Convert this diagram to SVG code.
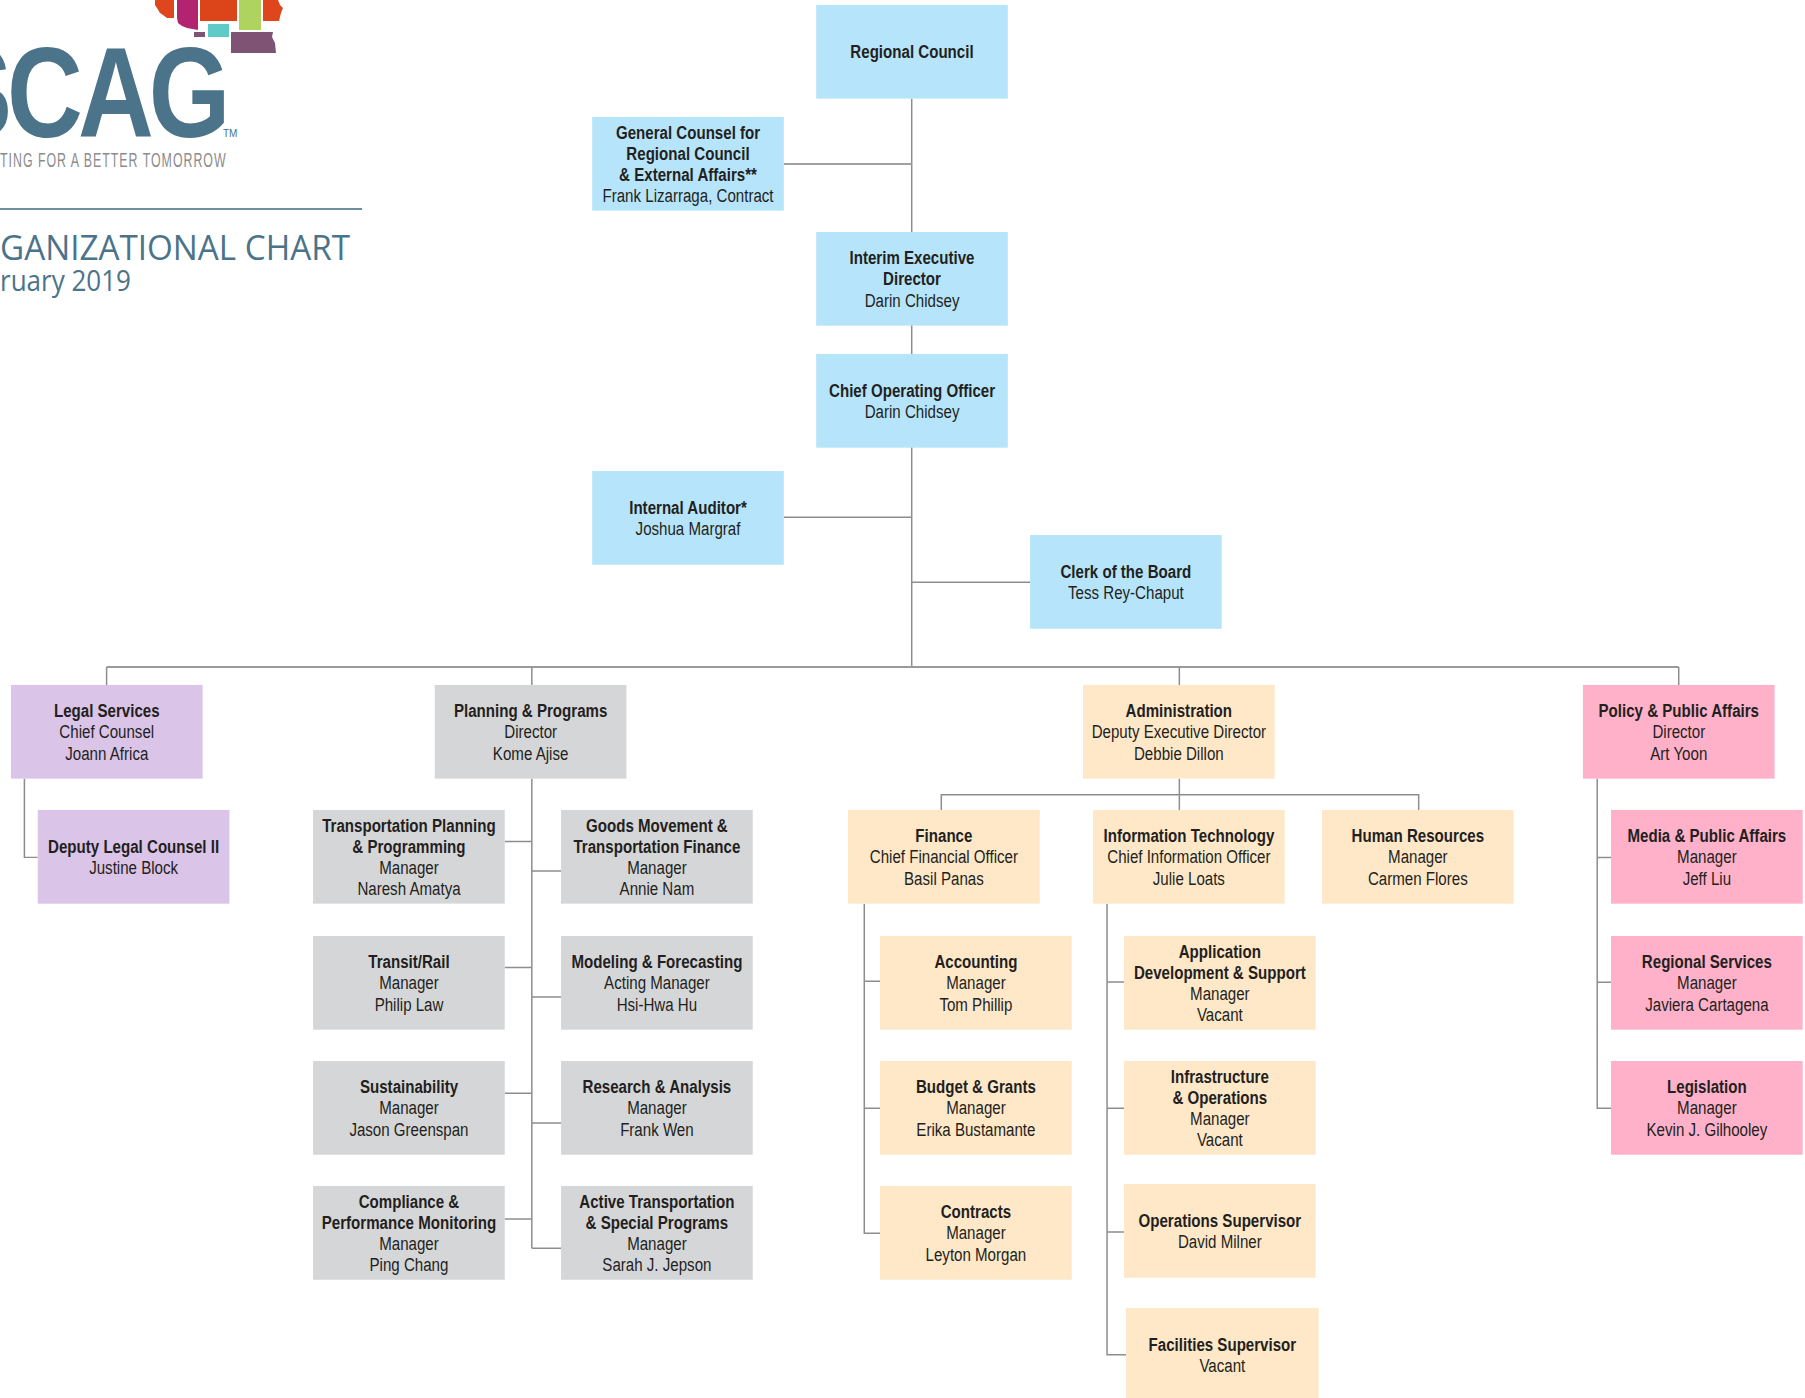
<svg xmlns="http://www.w3.org/2000/svg" width="1805" height="1398" viewBox="0 0 1805 1398">
<style>
.t{font-family:"Liberation Sans",Arial,sans-serif;font-size:16px;fill:#231f20;text-anchor:middle;transform:scaleX(0.82);transform-box:fill-box;transform-origin:50% 50%}
.bd{font-weight:bold}
.blue{fill:#b6e5fb}.purple{fill:#dac4e8}.gray{fill:#d5d6d8}.peach{fill:#fee8c8}.pink{fill:#feb1c9}
.ln{fill:none;stroke:#8d8d8d;stroke-width:1.3}
</style>
<rect width="1805" height="1398" fill="#ffffff"/>
<g id="logo">
<polygon points="155,0 174,0 174,18 167,18 163,15 160,13 157,8 155,5" fill="#df461d"/>
<polygon points="177,0 198,0 198,30 187,28 182,26 178,23 177,18" fill="#b2246f"/>
<rect x="194" y="32" width="11" height="5" fill="#7e5373"/>
<rect x="200" y="0" width="37" height="21" fill="#dc4519"/>
<rect x="208" y="24" width="21" height="13" fill="#5ecbc9"/>
<rect x="239" y="0" width="22" height="30" fill="#aed35f"/>
<polygon points="263,0 278,0 280,5 283,8 281,13 279,21 263,21" fill="#df461d"/>
<polygon points="231,32 273,32 272,37 275,43 276,53 231,53" fill="#7e5373"/>
<text transform="translate(-58,137) scale(0.82,1)" x="0" y="0" font-family="Liberation Sans, Arial, sans-serif" font-weight="bold" font-size="128" letter-spacing="-6" fill="#4b7389">SCAG</text>
<text x="223" y="137" font-family="Liberation Sans, Arial, sans-serif" font-size="10" fill="#4b7389">TM</text>
<text transform="translate(0,167) scale(0.62,1)" x="0" y="0" font-family="Liberation Sans, Arial, sans-serif" font-size="20" fill="#8c8c8c" textLength="364" lengthAdjust="spacing">TING FOR A BETTER TOMORROW</text>
<line x1="0" y1="209" x2="362" y2="209" stroke="#6b8ea0" stroke-width="2"/>
<text x="0" y="260" font-family="Open Sans, Liberation Sans, sans-serif" font-size="35" fill="#4b7389" textLength="350" lengthAdjust="spacingAndGlyphs">GANIZATIONAL CHART</text>
<text x="0" y="291" font-family="Open Sans, Liberation Sans, sans-serif" font-size="29" fill="#4b7389" textLength="131" lengthAdjust="spacingAndGlyphs">ruary 2019</text>
</g>
<g transform="scale(1.15115)">
<g id="connectors" class="ln">
<path d="M792 85.7V579.4"/>
<path d="M680.9 142.5H792" stroke="#a0a0a0" stroke-width="1.6"/>
<path d="M680.9 449.4H792"/>
<path d="M792 505.9H894.8"/>
<path d="M92.6 579.4H1458.3" stroke-width="1.6" stroke="#9a9a9a"/>
<path d="M92.6 579.4V595M462 579.4V595M1024.5 579.4V595M1458.3 579.4V595"/>
<path d="M21.2 676.4V744.8H32.8"/>
<path d="M462 676.4V1084.4"/>
<path d="M438.5 731H462M438.5 840.4H462M438.5 949.7H462M438.5 1059H462"/>
<path d="M462 756.6H487.4M462 866H487.4M462 975.6H487.4M462 1084.4H487.4"/>
<path d="M1024.5 676.4V703.6"/>
<path d="M817.7 703.6V690.3H1232.4V703.6"/>
<path d="M750.8 785V1071.4H764.5M750.8 852.5H764.5M750.8 962.8H764.5"/>
<path d="M961.7 785V1176.8H978.2M961.7 853H976.4M961.7 962.8H976.4M961.7 1070.2H976.4"/>
<path d="M1387.5 676.4V962.8H1399.5M1387.5 745H1399.5M1387.5 853.3H1399.5"/>
</g>

<g id="regional-council"><rect class="blue" x="709" y="4.3" width="166.5" height="81.4"/>
<text class="t bd" x="792.25" y="50.7">Regional Council</text></g>

<g id="general-counsel"><rect class="blue" x="514.4" y="101.6" width="166.5" height="81.4"/>
<text class="t bd" x="597.65" y="120.4">General Counsel for</text>
<text class="t bd" x="597.65" y="138.8">Regional Council</text>
<text class="t bd" x="597.65" y="157.2">&amp; External Affairs**</text>
<text class="t" x="597.65" y="175.6">Frank Lizarraga, Contract</text></g>

<g id="interim-ed"><rect class="blue" x="709" y="201.5" width="166.5" height="81.4"/>
<text class="t bd" x="792.25" y="229.5">Interim Executive</text>
<text class="t bd" x="792.25" y="247.9">Director</text>
<text class="t" x="792.25" y="266.3">Darin Chidsey</text></g>

<g id="coo"><rect class="blue" x="709" y="307.5" width="166.5" height="81.4"/>
<text class="t bd" x="792.25" y="344.7">Chief Operating Officer</text>
<text class="t" x="792.25" y="363.1">Darin Chidsey</text></g>

<g id="internal-auditor"><rect class="blue" x="514.4" y="409.2" width="166.5" height="81.4"/>
<text class="t bd" x="597.65" y="446.4">Internal Auditor*</text>
<text class="t" x="597.65" y="464.8">Joshua Margraf</text></g>

<g id="clerk"><rect class="blue" x="894.8" y="464.8" width="166.5" height="81.4"/>
<text class="t bd" x="978.05" y="502">Clerk of the Board</text>
<text class="t" x="978.05" y="520.4">Tess Rey-Chaput</text></g>

<g id="legal"><rect class="purple" x="9.5" y="595" width="166.5" height="81.4"/>
<text class="t bd" x="92.75" y="623">Legal Services</text>
<text class="t" x="92.75" y="641.4">Chief Counsel</text>
<text class="t" x="92.75" y="659.8">Joann Africa</text></g>

<g id="deputy-legal"><rect class="purple" x="32.8" y="703.6" width="166.5" height="81.4"/>
<text class="t bd" x="116.05" y="740.8">Deputy Legal Counsel II</text>
<text class="t" x="116.05" y="759.2">Justine Block</text></g>

<g id="planning"><rect class="gray" x="377.7" y="595" width="166.5" height="81.4"/>
<text class="t bd" x="460.95" y="623">Planning &amp; Programs</text>
<text class="t" x="460.95" y="641.4">Director</text>
<text class="t" x="460.95" y="659.8">Kome Ajise</text></g>

<g id="tpp"><rect class="gray" x="272" y="703.6" width="166.5" height="81.4"/>
<text class="t bd" x="355.25" y="722.4">Transportation Planning</text>
<text class="t bd" x="355.25" y="740.8">&amp; Programming</text>
<text class="t" x="355.25" y="759.2">Manager</text>
<text class="t" x="355.25" y="777.6">Naresh Amatya</text></g>

<g id="goods"><rect class="gray" x="487.4" y="703.6" width="166.5" height="81.4"/>
<text class="t bd" x="570.65" y="722.4">Goods Movement &amp;</text>
<text class="t bd" x="570.65" y="740.8">Transportation Finance</text>
<text class="t" x="570.65" y="759.2">Manager</text>
<text class="t" x="570.65" y="777.6">Annie Nam</text></g>

<g id="transit"><rect class="gray" x="272" y="813.1" width="166.5" height="81.4"/>
<text class="t bd" x="355.25" y="841.1">Transit/Rail</text>
<text class="t" x="355.25" y="859.5">Manager</text>
<text class="t" x="355.25" y="877.9">Philip Law</text></g>

<g id="modeling"><rect class="gray" x="487.4" y="813.1" width="166.5" height="81.4"/>
<text class="t bd" x="570.65" y="841.1">Modeling &amp; Forecasting</text>
<text class="t" x="570.65" y="859.5">Acting Manager</text>
<text class="t" x="570.65" y="877.9">Hsi-Hwa Hu</text></g>

<g id="sustainability"><rect class="gray" x="272" y="921.7" width="166.5" height="81.4"/>
<text class="t bd" x="355.25" y="949.7">Sustainability</text>
<text class="t" x="355.25" y="968.1">Manager</text>
<text class="t" x="355.25" y="986.5">Jason Greenspan</text></g>

<g id="research"><rect class="gray" x="487.4" y="921.7" width="166.5" height="81.4"/>
<text class="t bd" x="570.65" y="949.7">Research &amp; Analysis</text>
<text class="t" x="570.65" y="968.1">Manager</text>
<text class="t" x="570.65" y="986.5">Frank Wen</text></g>

<g id="compliance"><rect class="gray" x="272" y="1030.3" width="166.5" height="81.4"/>
<text class="t bd" x="355.25" y="1049.1">Compliance &amp;</text>
<text class="t bd" x="355.25" y="1067.5">Performance Monitoring</text>
<text class="t" x="355.25" y="1085.9">Manager</text>
<text class="t" x="355.25" y="1104.3">Ping Chang</text></g>

<g id="active"><rect class="gray" x="487.4" y="1030.3" width="166.5" height="81.4"/>
<text class="t bd" x="570.65" y="1049.1">Active Transportation</text>
<text class="t bd" x="570.65" y="1067.5">&amp; Special Programs</text>
<text class="t" x="570.65" y="1085.9">Manager</text>
<text class="t" x="570.65" y="1104.3">Sarah J. Jepson</text></g>

<g id="administration"><rect class="peach" x="940.8" y="595" width="166.5" height="81.4"/>
<text class="t bd" x="1024.05" y="623">Administration</text>
<text class="t" x="1024.05" y="641.4">Deputy Executive Director</text>
<text class="t" x="1024.05" y="659.8">Debbie Dillon</text></g>

<g id="finance"><rect class="peach" x="736.7" y="703.6" width="166.5" height="81.4"/>
<text class="t bd" x="819.95" y="731.6">Finance</text>
<text class="t" x="819.95" y="750">Chief Financial Officer</text>
<text class="t" x="819.95" y="768.4">Basil Panas</text></g>

<g id="it"><rect class="peach" x="949.5" y="703.6" width="166.5" height="81.4"/>
<text class="t bd" x="1032.75" y="731.6">Information Technology</text>
<text class="t" x="1032.75" y="750">Chief Information Officer</text>
<text class="t" x="1032.75" y="768.4">Julie Loats</text></g>

<g id="hr"><rect class="peach" x="1148.4" y="703.6" width="166.5" height="81.4"/>
<text class="t bd" x="1231.65" y="731.6">Human Resources</text>
<text class="t" x="1231.65" y="750">Manager</text>
<text class="t" x="1231.65" y="768.4">Carmen Flores</text></g>

<g id="accounting"><rect class="peach" x="764.5" y="813.1" width="166.5" height="81.4"/>
<text class="t bd" x="847.75" y="841.1">Accounting</text>
<text class="t" x="847.75" y="859.5">Manager</text>
<text class="t" x="847.75" y="877.9">Tom Phillip</text></g>

<g id="budget"><rect class="peach" x="764.5" y="921.7" width="166.5" height="81.4"/>
<text class="t bd" x="847.75" y="949.7">Budget &amp; Grants</text>
<text class="t" x="847.75" y="968.1">Manager</text>
<text class="t" x="847.75" y="986.5">Erika Bustamante</text></g>

<g id="contracts"><rect class="peach" x="764.5" y="1030.3" width="166.5" height="81.4"/>
<text class="t bd" x="847.75" y="1058.3">Contracts</text>
<text class="t" x="847.75" y="1076.7">Manager</text>
<text class="t" x="847.75" y="1095.1">Leyton Morgan</text></g>

<g id="appdev"><rect class="peach" x="976.4" y="813.1" width="166.5" height="81.4"/>
<text class="t bd" x="1059.65" y="831.9">Application</text>
<text class="t bd" x="1059.65" y="850.3">Development &amp; Support</text>
<text class="t" x="1059.65" y="868.7">Manager</text>
<text class="t" x="1059.65" y="887.1">Vacant</text></g>

<g id="infra"><rect class="peach" x="976.4" y="921.7" width="166.5" height="81.4"/>
<text class="t bd" x="1059.65" y="940.5">Infrastructure</text>
<text class="t bd" x="1059.65" y="958.9">&amp; Operations</text>
<text class="t" x="1059.65" y="977.3">Manager</text>
<text class="t" x="1059.65" y="995.7">Vacant</text></g>

<g id="ops"><rect class="peach" x="976.4" y="1028.6" width="166.5" height="81.4"/>
<text class="t bd" x="1059.65" y="1065.8">Operations Supervisor</text>
<text class="t" x="1059.65" y="1084.2">David Milner</text></g>

<g id="facilities"><rect class="peach" x="978.2" y="1136.2" width="167.3" height="81.4"/>
<text class="t bd" x="1061.85" y="1173.4">Facilities Supervisor</text>
<text class="t" x="1061.85" y="1191.8">Vacant</text></g>

<g id="policy"><rect class="pink" x="1375.1" y="595" width="166.5" height="81.4"/>
<text class="t bd" x="1458.35" y="623">Policy &amp; Public Affairs</text>
<text class="t" x="1458.35" y="641.4">Director</text>
<text class="t" x="1458.35" y="659.8">Art Yoon</text></g>

<g id="media"><rect class="pink" x="1399.5" y="703.6" width="166.5" height="81.4"/>
<text class="t bd" x="1482.75" y="731.6">Media &amp; Public Affairs</text>
<text class="t" x="1482.75" y="750">Manager</text>
<text class="t" x="1482.75" y="768.4">Jeff Liu</text></g>

<g id="regional-services"><rect class="pink" x="1399.5" y="813.1" width="166.5" height="81.4"/>
<text class="t bd" x="1482.75" y="841.1">Regional Services</text>
<text class="t" x="1482.75" y="859.5">Manager</text>
<text class="t" x="1482.75" y="877.9">Javiera Cartagena</text></g>

<g id="legislation"><rect class="pink" x="1399.5" y="921.7" width="166.5" height="81.4"/>
<text class="t bd" x="1482.75" y="949.7">Legislation</text>
<text class="t" x="1482.75" y="968.1">Manager</text>
<text class="t" x="1482.75" y="986.5">Kevin J. Gilhooley</text></g>
</g>
</svg>
